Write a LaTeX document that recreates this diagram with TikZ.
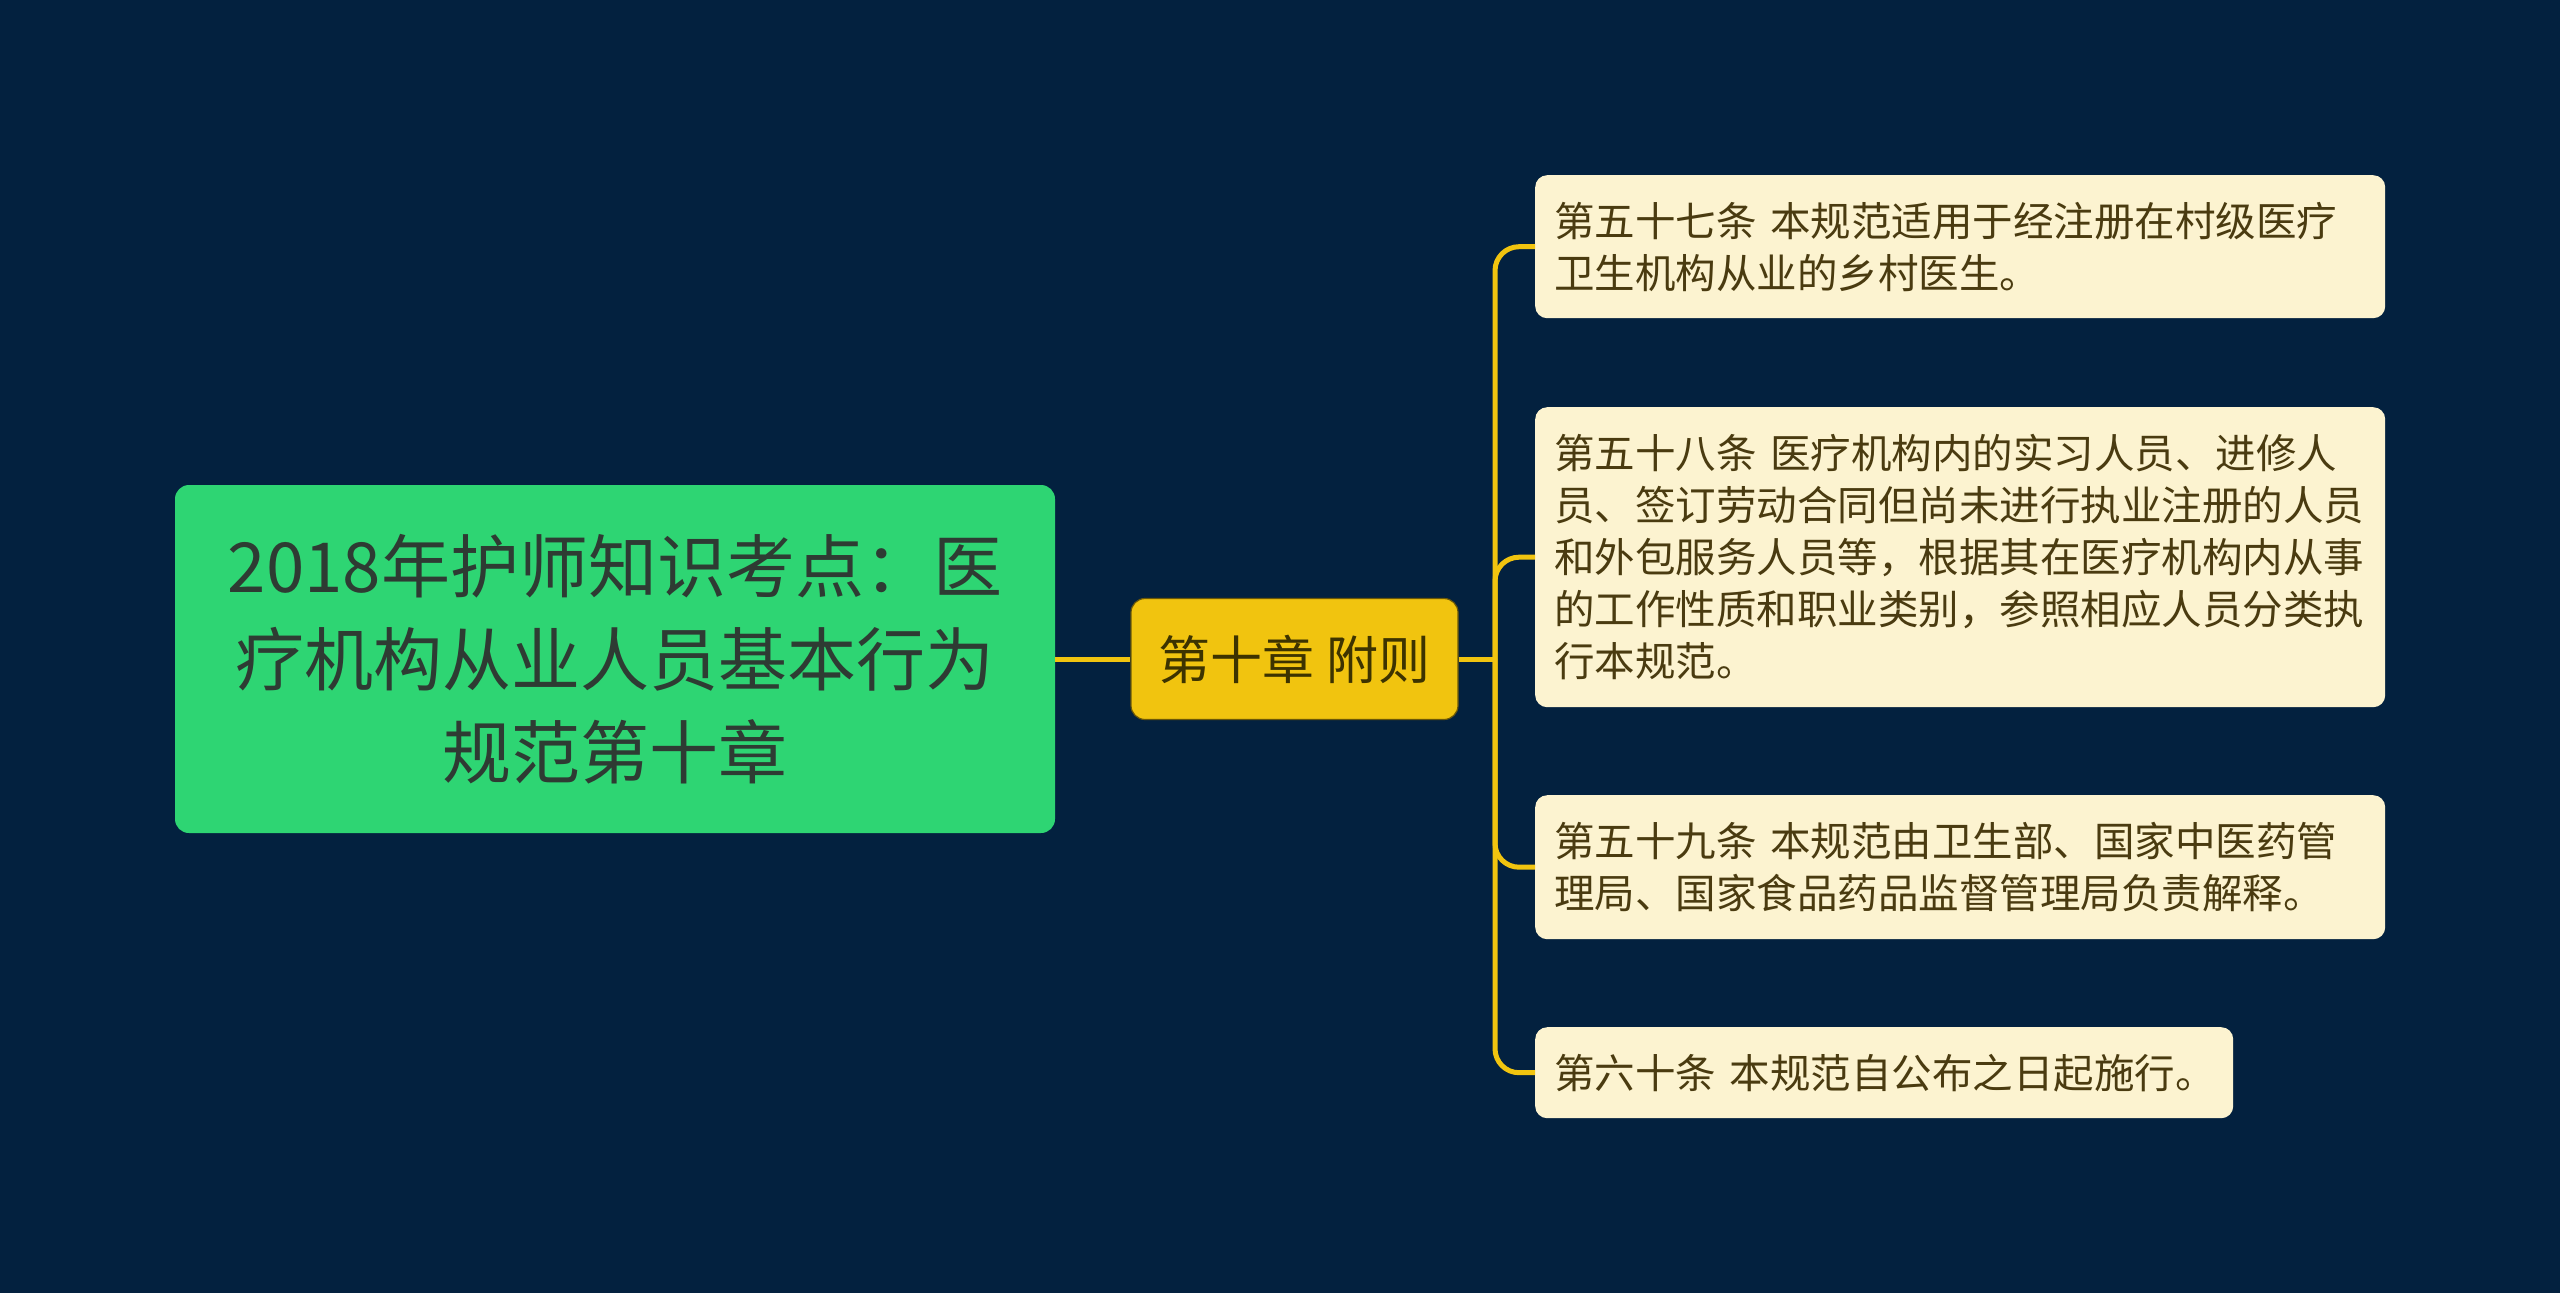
\documentclass[tikz,border=0pt]{standalone}
\usepackage{fontspec}
\newfontfamily\cjk{Noto Sans CJK SC}
\usetikzlibrary{positioning}

\definecolor{bgnavy}{HTML}{03213F}
\definecolor{rootgreen}{HTML}{2ED573}
\definecolor{chapgold}{HTML}{F1C40F}
\definecolor{leafcream}{HTML}{FCF3D0}
\definecolor{rootink}{HTML}{2E3B33}
\definecolor{chapink}{HTML}{3D3300}
\definecolor{leafink}{HTML}{4A3B10}

\begin{document}
\begin{tikzpicture}[x=1pt,y=-1pt,
  rootbox/.style={fill=rootgreen, text=rootink, rounded corners=14pt, align=center,
    minimum width=880pt, minimum height=348pt, inner sep=0pt,
    font=\cjk\fontsize{69}{93}\selectfont},
  chapbox/.style={fill=chapgold, text=chapink, rounded corners=14pt, draw=black!55!chapgold, line width=1.2pt,
    minimum width=327pt, minimum height=121pt, inner sep=0pt,
    font=\cjk\fontsize{52}{60}\selectfont},
  leafbox/.style={fill=leafcream, text=leafink, rounded corners=12pt, align=left, anchor=north west,
    inner xsep=19pt, inner ysep=0pt,
    font=\cjk\fontsize{40.5}{52}\selectfont},
  link/.style={draw=chapgold, line width=5pt},
]
\fill[bgnavy] (0,0) rectangle (2560,1293);

\node[rootbox] (root) at (615,659) {2018年护师知识考点：医\\疗机构从业人员基本行为\\规范第十章};
\node[chapbox] (chap) at (1294.5,659) {第十章 附则};

\node[leafbox, text width=812pt, minimum height=143pt] (a57) at (1535,175)
  {第五十七条 本规范适用于经注册在村级医疗\\卫生机构从业的乡村医生。};
\node[leafbox, text width=812pt, minimum height=300pt] (a58) at (1535,407)
  {第五十八条 医疗机构内的实习人员、进修人\\员、签订劳动合同但尚未进行执业注册的人员\\和外包服务人员等，根据其在医疗机构内从事\\的工作性质和职业类别，参照相应人员分类执\\行本规范。};
\node[leafbox, text width=812pt, minimum height=144pt] (a59) at (1535,795)
  {第五十九条 本规范由卫生部、国家中医药管\\理局、国家食品药品监督管理局负责解释。};
\node[leafbox, text width=660pt, minimum height=91pt] (a60) at (1535,1027)
  {第六十条 本规范自公布之日起施行。};

\coordinate (hub) at (1495,659);
\draw[link] (root.east) -- (chap.west);
\draw[link] (chap.east) -- (hub);
\foreach \leaf in {a57,a58,a59,a60}
  \draw[link, rounded corners=24pt] (hub) |- (\leaf.west);
\end{tikzpicture}
\end{document}
